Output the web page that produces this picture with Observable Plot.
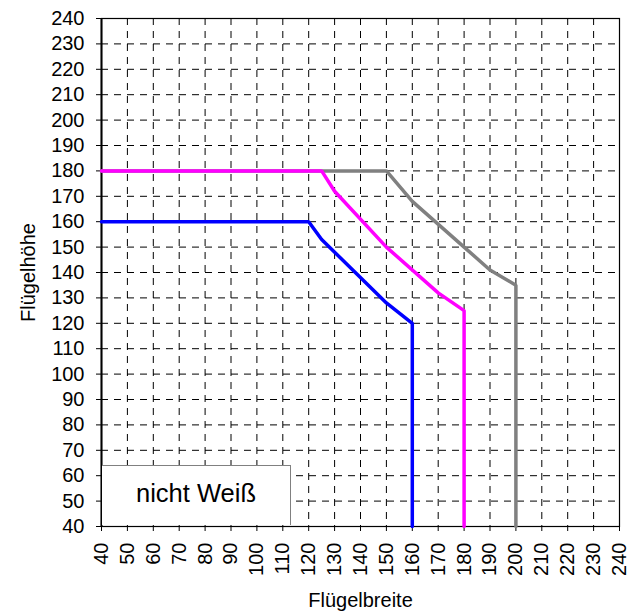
<!DOCTYPE html>
<html><head><meta charset="utf-8">
<script src="https://cdn.jsdelivr.net/npm/d3@7"></script>
<script src="https://cdn.jsdelivr.net/npm/@observablehq/plot@0.6"></script>
<style>
body{margin:0;background:#fff;}
#wrap{position:relative;width:639px;height:616px;}
#legend{position:absolute;left:102px;top:465px;width:189px;height:60px;box-sizing:border-box;border-top:1.5px solid #808080;border-right:1.5px solid #808080;background:#fff;font:25.5px "Liberation Sans",Arial,sans-serif;display:flex;align-items:center;justify-content:center;color:#000;padding-bottom:5px;}
</style></head><body>
<div id="wrap"><div id="legend">nicht Weiß</div></div>
<script>
const xTicks = [40,50,60,70,80,90,100,110,120,130,140,150,160,170,180,190,200,210,220,230,240];
const yTicks = [40,50,60,70,80,90,100,110,120,130,140,150,160,170,180,190,200,210,220,230,240];
const xLabel = "Flügelbreite";
const yLabel = "Flügelhöhe";

const grayX = [40,150,160,180,190,200,200];
const grayY = [180,180,168,150,141,135,40];
const magentaX = [40,125,130,150,170,180,180];
const magentaY = [180,180,172,150,132,125,40];
const blueX = [40,120,125,150,160,160];
const blueY = [160,160,153,128,120,40];

const toRows = (xs, ys) => xs.map((x, i) => ({x, y: ys[i]}));
const font = "'Liberation Sans', Arial, sans-serif";

const chart = Plot.plot({
  width: 639, height: 616,
  marginLeft: 101, marginRight: 20, marginTop: 18, marginBottom: 90,
  x: {domain: [xTicks[0], xTicks[xTicks.length-1]]},
  y: {domain: [yTicks[0], yTicks[yTicks.length-1]]},
  style: {fontFamily: font, fontSize: "20px", background: "#fff", color: "#000"},
  marks: [
    Plot.gridX(xTicks, {stroke: "#000", strokeOpacity: 1, strokeWidth: 1, strokeDasharray: "7,6"}),
    Plot.gridY(yTicks, {stroke: "#000", strokeOpacity: 1, strokeWidth: 1, strokeDasharray: "7,6"}),
    Plot.frame({stroke: "#000", strokeWidth: 1.2}),
    Plot.ruleX([xTicks[0]], {stroke: "#000", strokeWidth: 2}),
    Plot.axisY(yTicks, {tickSize: 5, tickPadding: 12, fontSize: 20, label: null}),
    Plot.axisX(xTicks, {tickSize: 5, tickPadding: 11, tickRotate: -90, fontSize: 20, label: null}),
    Plot.line(toRows(grayX, grayY), {x: "x", y: "y", stroke: "#808080", strokeWidth: 3.5, strokeLinejoin: "miter"}),
    Plot.line(toRows(magentaX, magentaY), {x: "x", y: "y", stroke: "#ff00ff", strokeWidth: 3.5, strokeLinejoin: "miter"}),
    Plot.line(toRows(blueX, blueY), {x: "x", y: "y", stroke: "#0000ff", strokeWidth: 3.5, strokeLinejoin: "miter"}),
    Plot.text([xLabel], {frameAnchor: "bottom", textAnchor: "middle", lineAnchor: "middle", dy: 74, fontSize: 20}),
    Plot.text([yLabel], {frameAnchor: "left", textAnchor: "middle", lineAnchor: "middle", rotate: -90, dx: -73, fontSize: 20})
  ]
});
const wrap = document.getElementById("wrap");
wrap.insertBefore(chart, document.getElementById("legend"));
</script>
</body></html>
